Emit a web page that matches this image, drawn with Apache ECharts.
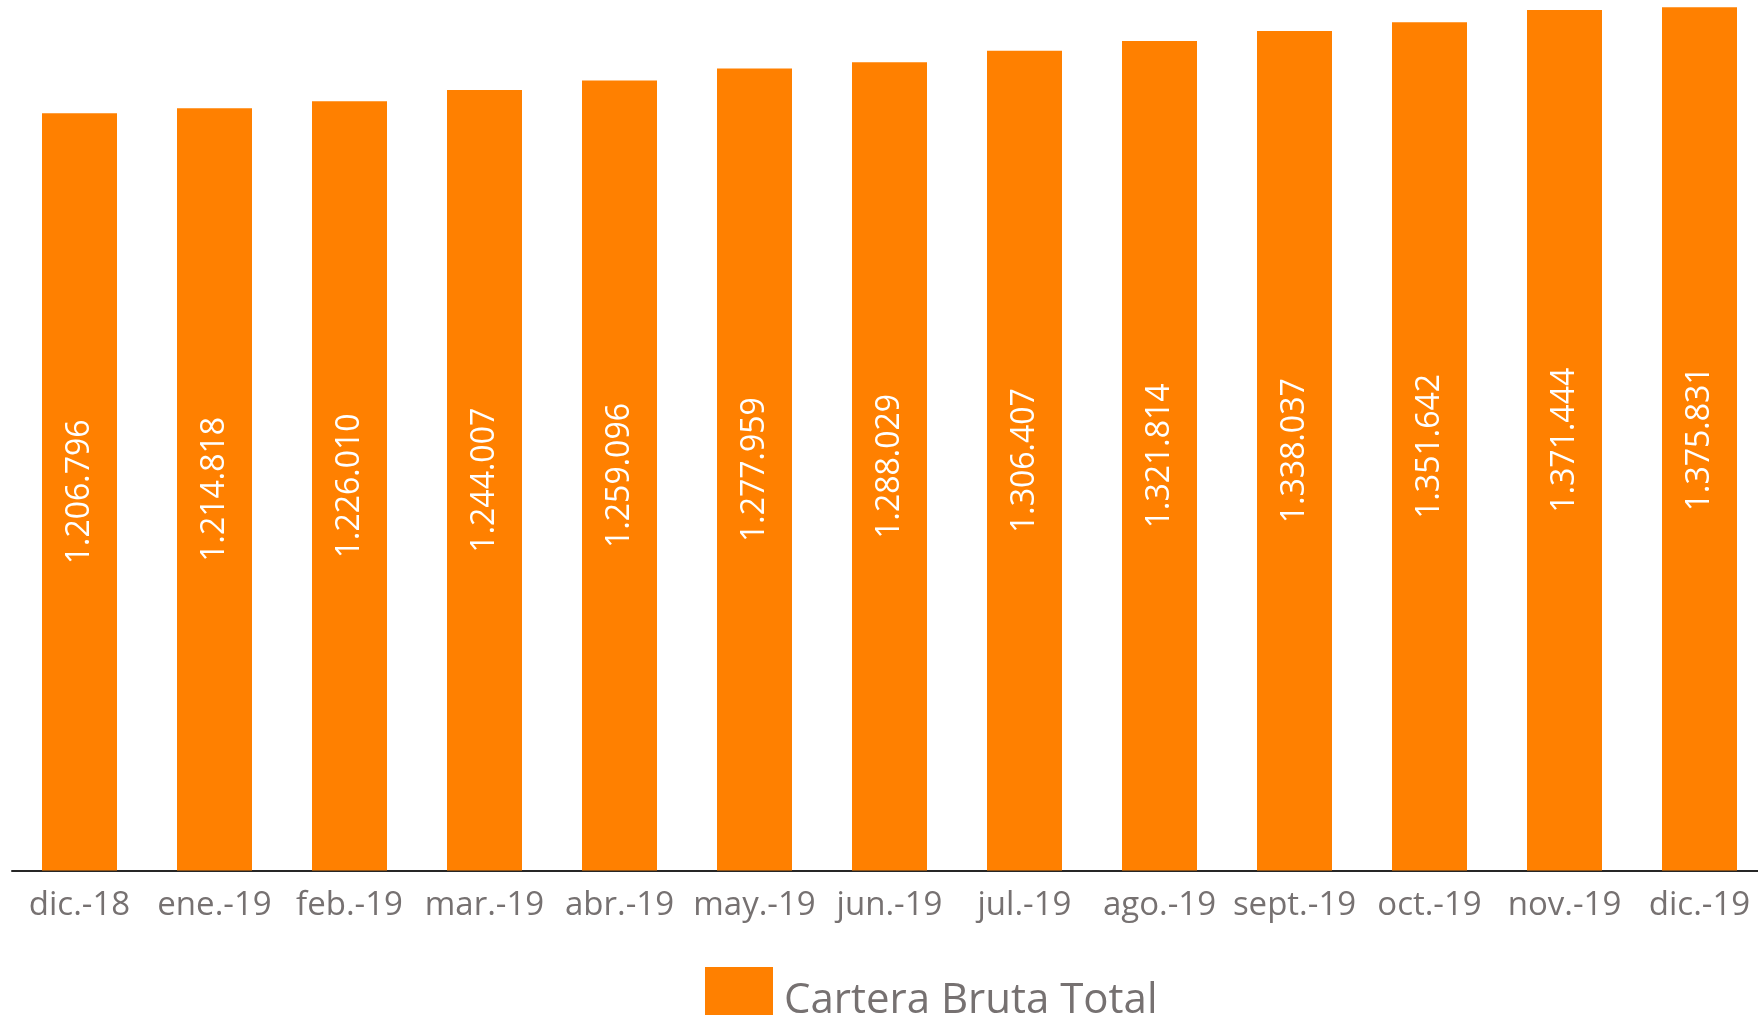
<!DOCTYPE html>
<html>
<head>
<meta charset="utf-8">
<script src="https://cdn.jsdelivr.net/npm/echarts@6/dist/echarts.min.js"></script>
<style>
  html, body { margin: 0; padding: 0; background: #fff; overflow: hidden; }
  /* plot area of the original runs a little past the right and top edges */
  #chart { width: 1767px; height: 1023px; margin-top: -8px; }
</style>
</head>
<body>
<div id="chart"></div>
<script>
// data
var categories = ['dic.-18', 'ene.-19', 'feb.-19', 'mar.-19', 'abr.-19', 'may.-19', 'jun.-19',
    'jul.-19', 'ago.-19', 'sept.-19', 'oct.-19', 'nov.-19', 'dic.-19'];
var carteraBruta = [1206796, 1214818, 1226010, 1244007, 1259096, 1277959, 1288029,
    1306407, 1321814, 1338037, 1351642, 1371444, 1375831];
var seriesName = 'Cartera Bruta Total';

// thousands with dots, like the spanish original
function fmt(v) {
    return String(v).replace(/\B(?=(\d{3})+(?!\d))/g, '.');
}

var myChart = echarts.init(document.getElementById('chart'));

var option = {
    animation: false,
    textStyle: { fontFamily: 'Open Sans' },
    grid: {
        left: 12,
        right: 0,
        top: 0,
        bottom: 144.5,
        containLabel: false
    },
    legend: {
        data: [seriesName],
        left: 700,
        top: 970,
        icon: 'rect',
        itemWidth: 68,
        itemHeight: 68,
        itemGap: 10,
        textStyle: {
            fontSize: 42,
            color: '#767171',
            fontFamily: 'Open Sans',
            padding: [0, 0, 18, 6]
        }
    },
    xAxis: {
        type: 'category',
        data: categories,
        axisLine: { lineStyle: { color: '#262626', width: 2 } },
        axisTick: { show: false },
        axisLabel: {
            color: '#767171',
            fontSize: 33,
            margin: 19,
            interval: 0
        }
    },
    yAxis: {
        type: 'value',
        min: 0,
        max: 1400000,
        show: false,
        splitLine: { show: false }
    },
    series: [
        {
            name: seriesName,
            type: 'bar',
            data: carteraBruta,
            barWidth: 75,
            itemStyle: { color: '#FF8000' },
            label: {
                show: true,
                position: 'inside',
                rotate: 90,
                color: '#ffffff',
                fontSize: 32,
                formatter: function (p) { return fmt(p.value); }
            }
        }
    ]
};

myChart.setOption(option);
</script>
</body>
</html>
